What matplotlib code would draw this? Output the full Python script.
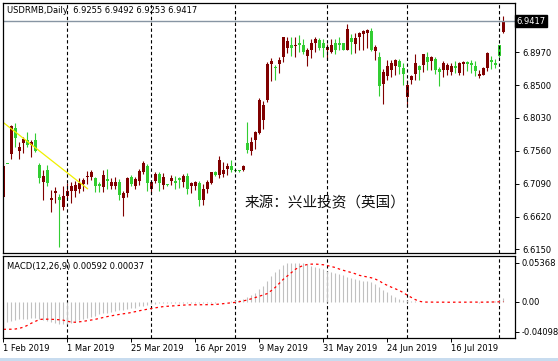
import numpy as np
import matplotlib.pyplot as plt
from matplotlib.patches import Rectangle
from matplotlib import transforms

plt.rcParams['font.family'] = ['DejaVu Sans']
plt.rcParams['font.size'] = 6
plt.rcParams['lines.scale_dashes'] = False

# daily candles, 1 Feb 2019 .. 2 Aug 2019 (one entry per bar)
opens = [6.690, 6.7375, 6.751, 6.789, 6.756, 6.767, 6.772, 6.764, 6.772, 6.736, 6.712, 6.728, 6.685, 6.695, 6.690, 6.676,
         6.691, 6.698, 6.699, 6.701, 6.709, 6.719, 6.719, 6.717, 6.708, 6.704, 6.716, 6.705, 6.706, 6.711, 6.688, 6.695, 6.719, 6.705, 6.713, 6.726, 6.735,
         6.702, 6.713, 6.723, 6.707, 6.708, 6.713, 6.713, 6.717, 6.711, 6.720, 6.705, 6.706, 6.710, 6.685, 6.701, 6.710, 6.725, 6.721, 6.723, 6.730, 6.734,
         6.729, 6.728, 6.728, 6.767, 6.756, 6.772, 6.781, 6.800, 6.829, 6.880, 6.876, 6.880, 6.890, 6.903, 6.907, 6.906, 6.910, 6.907, 6.892, 6.901, 6.911, 6.915, 6.910,
         6.900, 6.898, 6.910, 6.910, 6.910, 6.901, 6.918, 6.909, 6.919, 6.923, 6.924, 6.928, 6.899, 6.891, 6.851, 6.863, 6.872, 6.877, 6.885, 6.875,
         6.833, 6.858, 6.866, 6.877, 6.879, 6.891, 6.884, 6.887, 6.873, 6.872, 6.872, 6.869, 6.877, 6.867, 6.880, 6.883, 6.882, 6.877, 6.863, 6.865, 6.874, 6.886, 6.882,
         6.908, 6.9255]
highs = [6.743, 6.7378, 6.793, 6.796, 6.768, 6.776, 6.783, 6.772, 6.781, 6.739, 6.728, 6.736, 6.700, 6.704, 6.694, 6.706,
         6.710, 6.712, 6.713, 6.717, 6.717, 6.727, 6.728, 6.718, 6.711, 6.728, 6.730, 6.717, 6.718, 6.716, 6.699, 6.719, 6.721, 6.718, 6.730, 6.741, 6.737,
         6.714, 6.725, 6.725, 6.724, 6.708, 6.722, 6.720, 6.719, 6.723, 6.724, 6.711, 6.713, 6.713, 6.709, 6.714, 6.726, 6.727, 6.749, 6.740, 6.738, 6.743,
         6.729, 6.729, 6.736, 6.797, 6.776, 6.785, 6.831, 6.827, 6.883, 6.889, 6.879, 6.891, 6.919, 6.919, 6.919, 6.919, 6.922, 6.916, 6.903, 6.916, 6.919, 6.917, 6.916,
         6.909, 6.916, 6.916, 6.919, 6.911, 6.937, 6.923, 6.925, 6.926, 6.929, 6.930, 6.932, 6.908, 6.898, 6.873, 6.886, 6.886, 6.888, 6.887, 6.881,
         6.857, 6.865, 6.894, 6.879, 6.895, 6.897, 6.892, 6.890, 6.876, 6.884, 6.882, 6.882, 6.885, 6.883, 6.884, 6.885, 6.886, 6.884, 6.872, 6.876, 6.897, 6.892, 6.888,
         6.908, 6.9492]
lows = [6.690, 6.7368, 6.745, 6.762, 6.745, 6.753, 6.762, 6.747, 6.754, 6.710, 6.685, 6.705, 6.669, 6.682, 6.619, 6.672,
        6.687, 6.681, 6.690, 6.695, 6.698, 6.709, 6.714, 6.697, 6.697, 6.697, 6.701, 6.702, 6.701, 6.686, 6.663, 6.690, 6.706, 6.702, 6.707, 6.723, 6.698,
        6.696, 6.710, 6.698, 6.701, 6.706, 6.707, 6.702, 6.703, 6.704, 6.694, 6.696, 6.700, 6.677, 6.678, 6.696, 6.709, 6.720, 6.717, 6.719, 6.721, 6.725,
        6.726, 6.726, 6.727, 6.753, 6.750, 6.759, 6.780, 6.787, 6.826, 6.856, 6.857, 6.868, 6.883, 6.896, 6.892, 6.890, 6.897, 6.895, 6.878, 6.889, 6.897, 6.900, 6.890,
        6.886, 6.896, 6.895, 6.901, 6.900, 6.900, 6.895, 6.896, 6.900, 6.900, 6.903, 6.899, 6.886, 6.835, 6.823, 6.857, 6.861, 6.864, 6.866, 6.850,
        6.819, 6.851, 6.857, 6.857, 6.869, 6.872, 6.871, 6.866, 6.849, 6.862, 6.865, 6.864, 6.867, 6.865, 6.865, 6.870, 6.868, 6.863, 6.860, 6.864, 6.870, 6.873, 6.874,
        6.891, 6.9253]
closes = [6.734, 6.7370, 6.791, 6.774, 6.762, 6.773, 6.764, 6.768, 6.756, 6.717, 6.720, 6.710, 6.689, 6.699, 6.685, 6.691,
          6.699, 6.706, 6.707, 6.710, 6.714, 6.720, 6.726, 6.706, 6.706, 6.721, 6.713, 6.712, 6.711, 6.693, 6.696, 6.717, 6.708, 6.715, 6.727, 6.738, 6.710,
          6.711, 6.723, 6.710, 6.718, 6.707, 6.717, 6.710, 6.714, 6.720, 6.702, 6.710, 6.712, 6.686, 6.702, 6.711, 6.725, 6.721, 6.743, 6.728, 6.734, 6.728,
          6.727, 6.727, 6.735, 6.757, 6.769, 6.783, 6.829, 6.822, 6.880, 6.884, 6.874, 6.886, 6.919, 6.913, 6.903, 6.908, 6.908, 6.898, 6.900, 6.910, 6.916, 6.903, 6.903,
          6.905, 6.908, 6.901, 6.908, 6.901, 6.931, 6.912, 6.918, 6.924, 6.928, 6.929, 6.901, 6.905, 6.849, 6.869, 6.878, 6.881, 6.886, 6.876, 6.866,
          6.850, 6.863, 6.882, 6.871, 6.894, 6.883, 6.890, 6.871, 6.869, 6.882, 6.879, 6.878, 6.874, 6.882, 6.883, 6.880, 6.879, 6.870, 6.866, 6.875, 6.896, 6.883, 6.879,
          6.892, 6.9417]

# MACD(12,26,9): histogram (main) and signal, one value per bar
macd_main = [-0.0410, -0.0270, -0.0260, -0.0250, -0.0235, -0.0233, -0.0233, -0.0225, -0.0222, -0.0230, -0.0245, -0.0260, -0.0275, -0.0288, -0.0298, -0.0303,
             -0.0296, -0.0285, -0.0268, -0.0250, -0.0235, -0.0218, -0.0203, -0.0186, -0.0170, -0.0158, -0.0148, -0.0136, -0.0124, -0.0115, -0.0108, -0.0100, -0.0090, -0.0077, -0.0063, -0.0052, -0.0040,
             -0.0030, -0.0024, -0.0020, -0.0018, -0.0019, -0.0018, -0.0017, -0.0018, -0.0016, -0.0017, -0.0018, -0.0016, -0.0017, -0.0015, -0.0014, -0.0012, -0.0010, -0.0006, -0.0002, 0.0004, 0.0012,
             0.0020, 0.0028, 0.0040, 0.0062, 0.0090, 0.0122, 0.0170, 0.0220, 0.0280, 0.0350, 0.0410, 0.0455, 0.0498, 0.0524, 0.0535, 0.05368, 0.0536, 0.0530, 0.0515, 0.0495, 0.0480, 0.0460, 0.0445,
             0.0427, 0.0410, 0.0390, 0.0374, 0.0360, 0.0340, 0.0320, 0.0308, 0.0300, 0.0290, 0.0282, 0.0268, 0.0238, 0.0202, 0.0163, 0.0128, 0.0097, 0.0066, 0.0044, 0.0031,
             0.0022, 0.0013, 0.0009, 0.0004, 0.0005, 0.0002, 0.0000, -0.0004, -0.0008, -0.0006, -0.0005, -0.0004, -0.0005, -0.0002, -0.0001, 0.0000, -0.0002, -0.0006, -0.0009, -0.0006, 0.0006, 0.0008, 0.0007,
             0.0025, 0.00592]
macd_signal = [-0.0374, -0.0374, -0.0373, -0.0370, -0.0360, -0.0345, -0.0320, -0.0290, -0.0265, -0.0240, -0.0236, -0.0236, -0.0238, -0.0240, -0.0244, -0.0250,
               -0.0265, -0.0276, -0.0278, -0.0272, -0.0265, -0.0256, -0.0247, -0.0237, -0.0225, -0.0212, -0.0200, -0.0190, -0.0180, -0.0171, -0.0162, -0.0155, -0.0144, -0.0133, -0.0121, -0.0110, -0.0100,
               -0.0090, -0.0081, -0.0072, -0.0064, -0.0060, -0.0056, -0.0052, -0.0048, -0.0044, -0.0041, -0.0040, -0.0040, -0.0039, -0.0039, -0.0038, -0.0037, -0.0035, -0.0030, -0.0024, -0.0018, -0.0012,
               -0.0007, 0.0003, 0.0014, 0.0026, 0.0043, 0.0060, 0.0078, 0.0095, 0.0114, 0.0155, 0.0200, 0.0255, 0.0310, 0.0355, 0.0400, 0.0445, 0.0475, 0.0497, 0.0510, 0.0515, 0.0515, 0.0512, 0.0506,
               0.0495, 0.0482, 0.0468, 0.0447, 0.0430, 0.0415, 0.0400, 0.0383, 0.0362, 0.0350, 0.0340, 0.0328, 0.0310, 0.0285, 0.0250, 0.0225, 0.0200, 0.0178, 0.0155, 0.0125,
               0.0090, 0.0060, 0.0030, 0.0008, -0.0002, -0.0003, -0.0003, -0.0004, -0.0004, -0.0004, -0.0005, -0.0005, -0.0004, -0.0004, -0.0004, -0.0004, -0.0003, -0.0003, -0.0004, -0.0004, -0.0003, -0.0002, -0.0001,
               0.0001, 0.00037]

month_starts = [16, 37, 58, 81, 101, 124]
date_ticks = [0, 16, 32, 48, 64, 80, 96, 112]
date_labels = ['1 Feb 2019', '1 Mar 2019', '25 Mar 2019', '16 Apr 2019', '9 May 2019', '31 May 2019', '24 Jun 2019', '16 Jul 2019']
price_ticks = [6.8970, 6.8500, 6.8030, 6.7560, 6.7090, 6.6620, 6.6150]
macd_ticks = [0.05368, 0.0, -0.04098]
trend_x = [0, 21]
trend_y = [6.7963, 6.7018]
last_price = 6.9417

W, H = 558, 361
fig = plt.figure(figsize=(W / 100, H / 100), dpi=100)
ax = fig.add_axes([2.5 / W, 1 - 252.7 / H, 512.5 / W, 250.2 / H])
ax2 = fig.add_axes([2.5 / W, 1 - 337.5 / H, 512.5 / W, 81.8 / H])

o = np.array(opens); h = np.array(highs); l = np.array(lows); c = np.array(closes)
x = np.arange(len(c))
up = c >= o
cols = np.where(up, '#800000', '#32cd32')

ax.vlines(x, l, h, colors=cols, lw=0.8)
ax.bar(x, np.maximum(np.abs(c - o), 0.0012), bottom=np.minimum(o, c), width=0.72, color=cols, linewidth=0)
ax.plot(trend_x, trend_y, color='#f0f000', lw=0.9)
ax.axhline(last_price, color='#8795a3', lw=1)

for a in (ax, ax2):
    for m in month_starts:
        a.axvline(m, color='black', lw=0.8, ls=(0, (2.4, 1.8)))
    a.set_xlim(-0.25, 127.9)
    for s in a.spines.values():
        s.set_linewidth(0.9)
    a.yaxis.tick_right()
    a.tick_params(axis='y', direction='out', length=3, width=0.7, pad=2, labelsize=6)

ax.set_ylim(6.6102, 6.9683)
ax.set_yticks(price_ticks)
ax.set_yticklabels(['%.4f' % p for p in price_ticks])
ax.tick_params(axis='x', bottom=False, labelbottom=False)

trans = transforms.blended_transform_factory(ax.transAxes, ax.transData)
ax.text(1.003, last_price, '%.4f' % last_price, transform=trans, ha='left', va='center',
        color='white', fontsize=6, bbox=dict(facecolor='black', edgecolor='black', pad=1.3))

ax.text(0.009, 0.985, 'USDRMB,Daily  %.4f %.4f %.4f %.4f' % (opens[-1], highs[-1], lows[-1], closes[-1]),
        transform=ax.transAxes, ha='left', va='top', fontsize=6)
ax.text(60.2, 6.6813, '来源：兴业投资（英国）', family=['Noto Sans CJK SC', 'DejaVu Sans'],
        fontsize=10.5, ha='left', va='center', color='#111111')

ax2.vlines(x, 0, macd_main, colors='#c0c0c0', lw=0.8)
ax2.plot(x, macd_signal, color='red', lw=0.9, ls=(0, (1.8, 2.2)))
ax2.set_ylim(-0.0486, 0.0630)
ax2.set_yticks(macd_ticks)
ax2.set_yticklabels(['0.05368', '0.00', '-0.04098'])
ax2.set_xticks(date_ticks)
ax2.set_xticklabels(date_labels, ha='left')
ax2.tick_params(axis='x', direction='out', length=3, width=0.7, pad=2, labelsize=6)
ax2.text(0.009, 0.92, 'MACD(12,26,9) %.5f %.5f' % (macd_main[-1], macd_signal[-1]),
         transform=ax2.transAxes, ha='left', va='top', fontsize=6)

fig.add_artist(Rectangle((0, 0), 1, 3 / H, transform=fig.transFigure, color='#c8dcef', lw=0))

fig.savefig('out.png', dpi=100)
